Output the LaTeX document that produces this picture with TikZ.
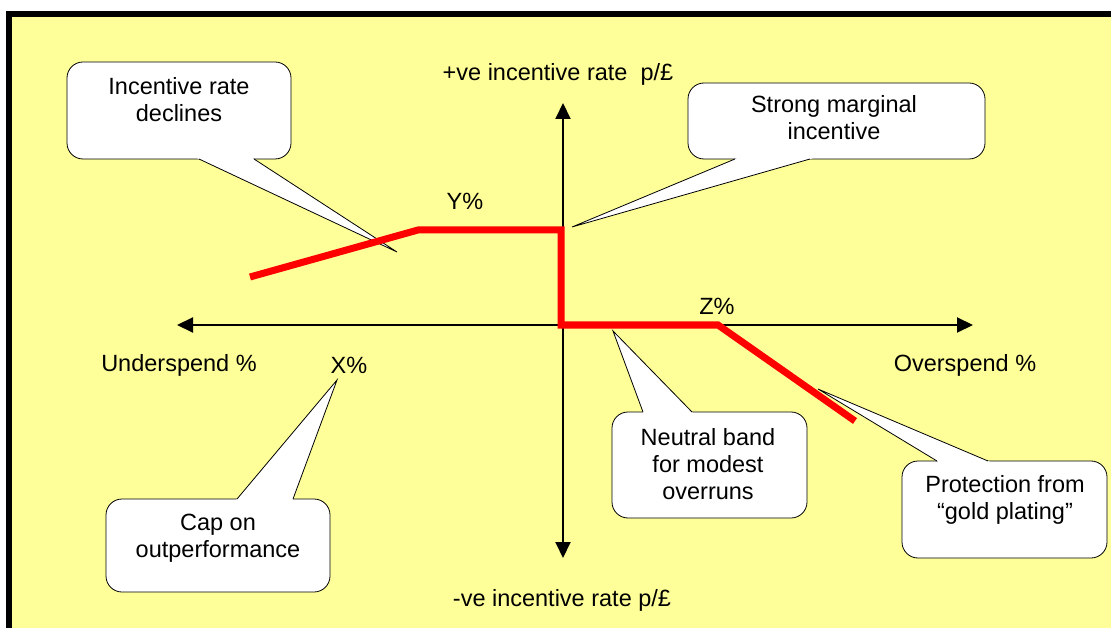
\documentclass[tikz,border=0pt]{standalone}
\usepackage{fontspec}
\setmainfont{Liberation Sans}
\usetikzlibrary{arrows.meta,calc}
\definecolor{bgyellow}{HTML}{FFFF99}
\tikzset{
  box/.style={draw=black, fill=white, line width=0.8pt, rounded corners=16pt},
  tailline/.style={draw=black, line width=0.8pt, line join=miter},
  axis/.style={line width=2pt, -{Triangle[length=16pt,width=15pt]}},
  redline/.style={draw=red, line width=7pt, line join=miter},
  lbl/.style={inner sep=0pt, align=center, font=\fontsize{23.5}{27}\selectfont},
}
\newcommand\mycallout[6]{%
  \draw[box] #2 rectangle #3;
  \coordinate (#1-a) at #4;
  \coordinate (#1-b) at #5;
  \coordinate (#1-t) at #6;
  \fill[white] ($(#1-t)!1.08!(#1-a)$) -- (#1-t) -- ($(#1-t)!1.08!(#1-b)$) -- cycle;
  \draw[tailline] (#1-a) -- (#1-t) -- (#1-b);
}
\begin{document}
\begin{tikzpicture}[x=1pt,y=-1pt]
\useasboundingbox (0,0) rectangle (1111,628);
\fill[white] (0,0) rectangle (1111,628);
\fill[black] (6,11) rectangle (1111,628);
\fill[bgyellow] (12,17) rectangle (1111,628);

% callouts
\mycallout{c1}{(67,62)}{(291,159)}{(199,159)}{(254,159)}{(397,252)}
\node[lbl] (t1) at (179,100) {Incentive rate\\declines};

\mycallout{c2}{(688,83)}{(985,159)}{(735,159)}{(810,159)}{(572,227)}
\node[lbl] (t2) at (834,118) {Strong marginal\\incentive};

\mycallout{c3}{(106,499)}{(330,592)}{(237,499)}{(293,499)}{(337,380)}
\node[lbl] (t3) at (218,538) {Cap on\\outperformance};

\mycallout{c4}{(612,412)}{(807,518)}{(643,412)}{(692,412)}{(613,331)}
\node[lbl] (t4) at (708,464) {Neutral band\\for modest\\overruns};

\mycallout{c5}{(902,461)}{(1107,558)}{(937,461)}{(988,461)}{(818,389)}
\node[lbl] (t5) at (1005,500) {Protection from\\\textquotedblleft gold plating\textquotedblright};

% axes
\coordinate (o) at (563,325);
\coordinate (xl) at (177,325);
\coordinate (xr) at (973,325);
\coordinate (yt) at (563,103);
\coordinate (yb) at (563,558);
\draw[axis] (o) -- (xl);
\draw[axis] (o) -- (xr);
\draw[axis] (o) -- (yt);
\draw[axis] (o) -- (yb);

% incentive curve
\coordinate (p1) at (250,277);
\coordinate (p2) at (418,230);
\coordinate (p3) at (561,230);
\coordinate (p4) at (561,325);
\coordinate (p5) at (718,325);
\coordinate (p6) at (855,421);
\draw[redline] (p1) -- (p2) -- (p3) -- (p4) -- (p5) -- (p6);

% labels
\node[lbl] (ypos) at (558,74) {+ve incentive rate\ \ p/£};
\node[lbl] (yneg) at (562,600) {-ve incentive rate p/£};
\node[lbl] (under) at (179,365) {Underspend \%};
\node[lbl] (over) at (965,365) {Overspend \%};
\node[lbl] (xp) at (349,365) {X\%};
\node[lbl] (yp) at (465,201) {Y\%};
\node[lbl] (zp) at (717,306) {Z\%};
\end{tikzpicture}
\end{document}
